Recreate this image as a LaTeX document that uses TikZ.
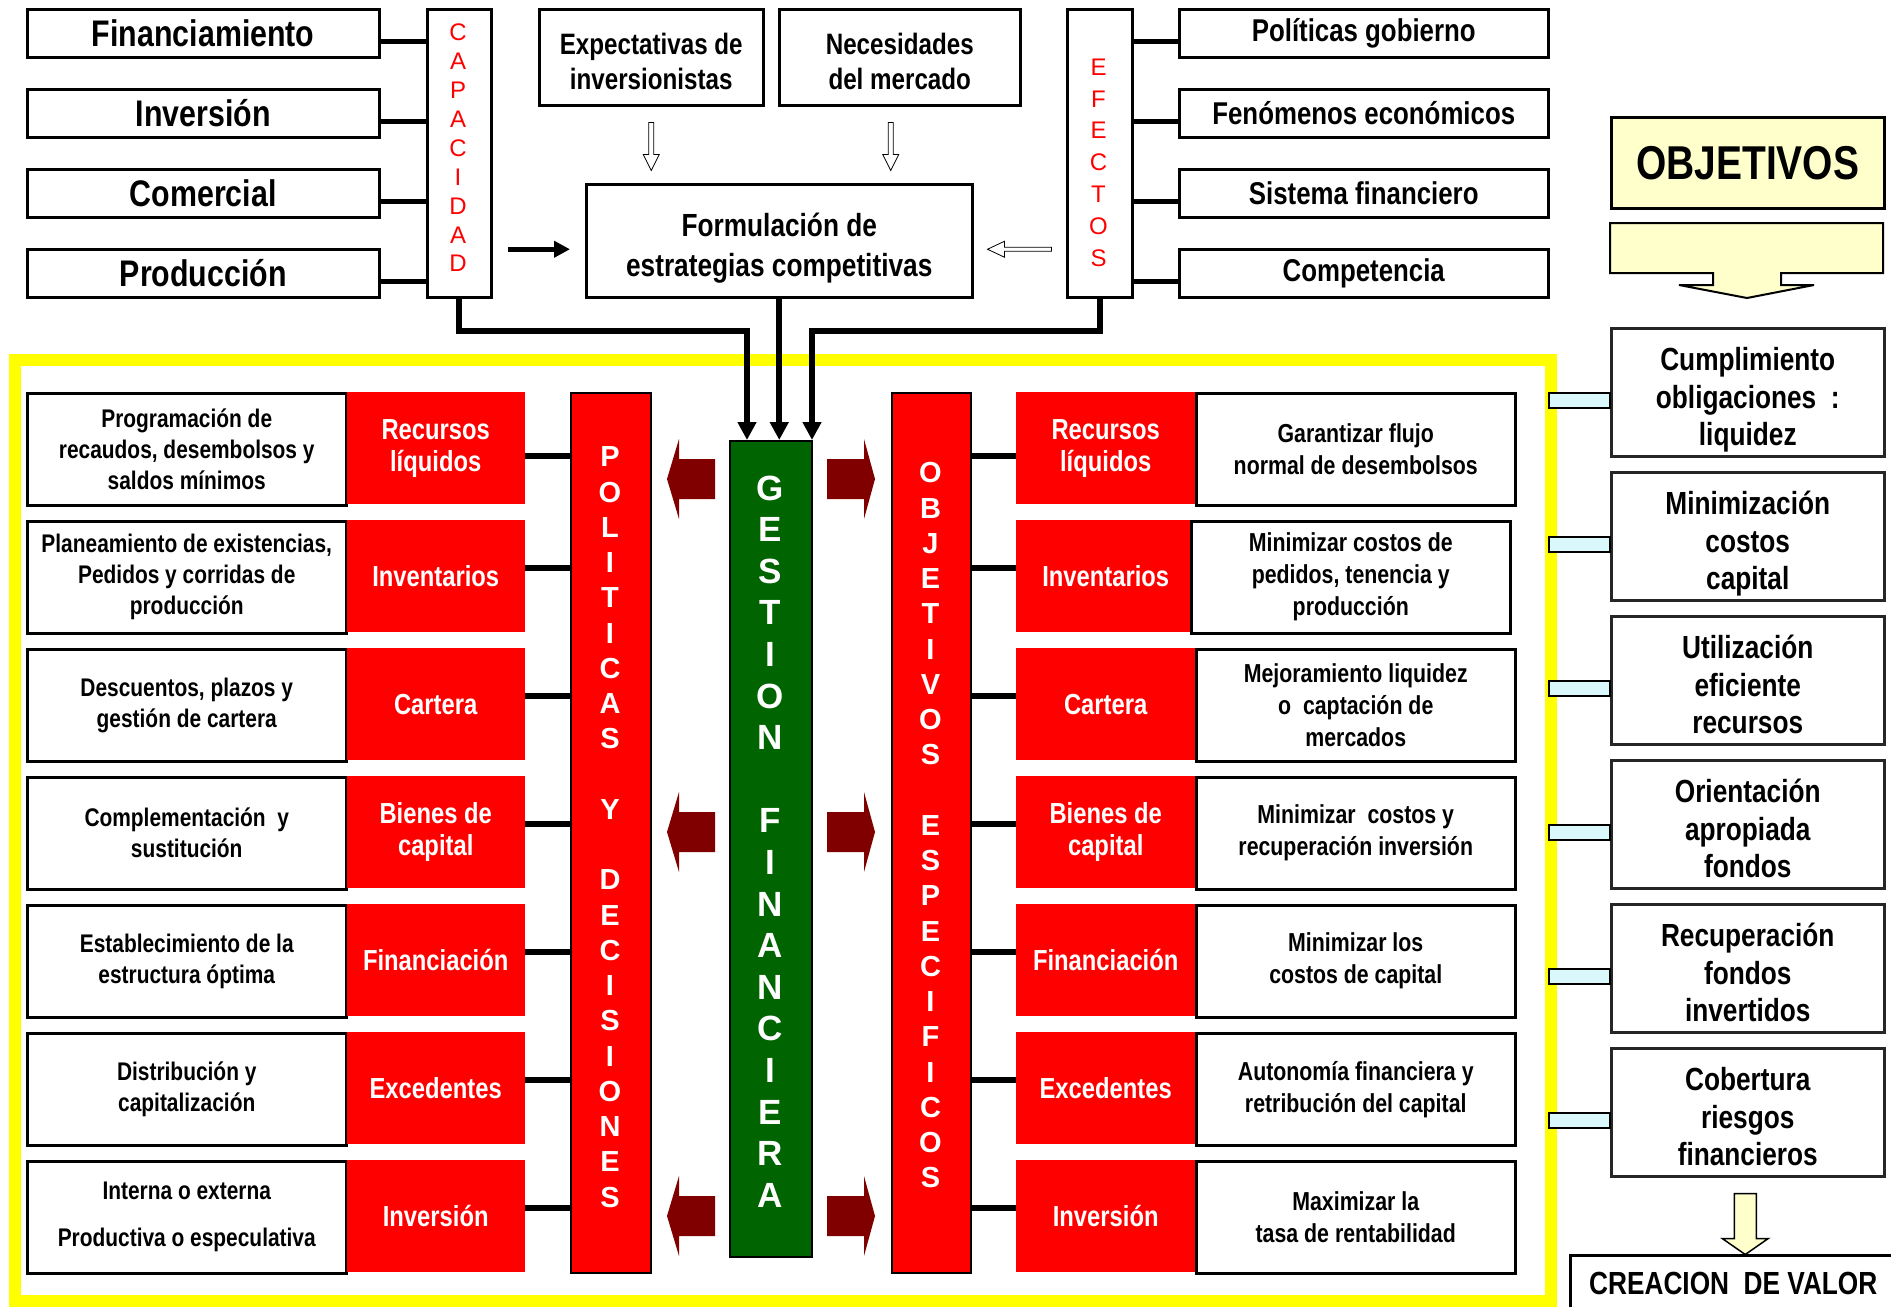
\documentclass[tikz,border=0pt]{standalone}
\usepackage{fontspec}
\setmainfont{Liberation Sans}[FakeStretch=0.82]
\newfontfamily\barfont{Liberation Sans}
\usetikzlibrary{positioning,calc,arrows.meta}

\definecolor{rojo}{HTML}{FF0000}
\definecolor{verde}{HTML}{006400}
\definecolor{marron}{HTML}{800000}
\definecolor{celeste}{HTML}{DAF7FB}
\definecolor{crema}{HTML}{FFFFCC}
\definecolor{amarillo}{HTML}{FFFF00}

\begin{document}
\begin{tikzpicture}[x=1pt, y=-1pt,
    box/.style={draw, line width=2.5pt, inner sep=0pt, align=center, font=\bfseries},
    topl/.style={box, minimum width=352pt, minimum height=48pt, font=\bfseries\fontsize{37}{40}\selectfont},
    topr/.style={box, minimum width=369pt, minimum height=48pt, font=\bfseries\fontsize{31.5}{36}\selectfont},
    lettbox/.style={box, minimum width=64pt, minimum height=288pt, anchor=north west},
    redletter/.style={text=rojo, inner sep=0pt, font=\barfont\fontsize{24}{24}\selectfont},
    barletter/.style={text=white, inner sep=0pt, font=\barfont\bfseries\fontsize{29}{29}\selectfont},
    bar/.style={draw, line width=2pt, fill=rojo, minimum width=80pt, minimum height=880pt, anchor=north west},
    desc/.style={box, fill=white, minimum width=319pt, minimum height=112pt, anchor=north west, font=\bfseries\fontsize{25.5}{31}\selectfont},
    rdesc/.style={desc, font=\bfseries\fontsize{26}{32}\selectfont},
    cat/.style={fill=rojo, text=white, inner sep=0pt, align=center, minimum width=178pt, minimum height=112pt, anchor=north west, font=\bfseries\fontsize{29}{32}\selectfont},
    goal/.style={box, draw=black!85, minimum width=273pt, minimum height=128pt, text height=115pt, text depth=8pt, font=\bfseries\fontsize{32}{37.5}\selectfont},
    twoline/.style={box, minimum height=96pt, anchor=north west, text height=72pt, text depth=8pt, font=\bfseries\fontsize{29.5}{35}\selectfont},
    link/.style={line width=5pt},
    feed/.style={line width=6pt, -{Triangle[width=18pt,length=18pt]}},
    bluebar/.style={draw, line width=1.5pt, fill=celeste},
    hollowdown/.pic={\draw[line width=0.8pt, fill=white] (-2.5,0) -- (2.5,0) -- (2.5,32) -- (8,32) -- (0,48) -- (-8,32) -- (-2.5,32) -- cycle;},
    hollowleft/.pic={\draw[line width=0.8pt, fill=white] (0,0) -- (17,-8) -- (17,-2) -- (64,-2) -- (64,2) -- (17,2) -- (17,8) -- cycle;},
    creamdown/.pic={\draw[line width=1.5pt, fill=crema] (-11,0) -- (11,0) -- (11,45) -- (23,45) -- (0,61) -- (-23,45) -- (-11,45) -- cycle;},
    brownleft/.pic={\fill[marron] (0,0) -- (12,-40) -- (12,-20) -- (48,-20) -- (48,20) -- (12,20) -- (12,40) -- cycle;},
    brownright/.pic={\fill[marron] (0,0) -- (-11,-40) -- (-11,-20) -- (-48,-20) -- (-48,20) -- (-11,20) -- (-11,40) -- cycle;}]

  \useasboundingbox (0,0) rectangle (1891,1307);

  % capacidad
  \node[topl, anchor=north west] (fin) at (26,8) {Financiamiento};
  \node[topl, below=29.5pt of fin] (inv) {Inversión};
  \node[topl, below=29.5pt of inv] (com) {Comercial};
  \node[topl, below=29.5pt of com] (pro) {Producción};
  \node[lettbox] (cap) at (426,8) {};
  \foreach \l [count=\k from 0] in {C,A,P,A,C,I,D,A,D}
    \node[redletter] (c\k) at (458,{32.5+28.9*\k}) {\l};
  \foreach \n in {fin,inv,com,pro}
    \draw[link] ($(\n.east)+(0,8)$) -- ($(\n.east -| cap.west)+(0,8)$);

  % entorno
  \node[twoline, minimum width=224pt] (expe) at (538,8) {Expectativas de\\inversionistas};
  \node[twoline, minimum width=241pt, anchor=west, right=13.5pt of expe] (nece) {Necesidades\\del mercado};
  \node[box, minimum width=386pt, minimum height=113pt, anchor=north west, text height=79pt, text depth=8pt,
        font=\bfseries\fontsize{32}{40}\selectfont] (form) at (585,183) {Formulación de\\estrategias competitivas};
  \pic at ($(expe.south)+(0,16)$) {hollowdown};
  \pic at ($(nece.south)+(-9,16)$) {hollowdown};
  \pic at ($(form.east)+(14,8.5)$) {hollowleft};
  \coordinate (capout) at ($(cap.east)+(15,96)$);
  \coordinate (formin) at ($(form.west)+(-15,8.5)$);
  \draw[line width=4.5pt, -{Triangle[width=16pt,length=16pt]}] (capout) -- (formin);

  % efectos
  \node[lettbox, minimum width=65pt] (efe) at (1066,8) {};
  \foreach \l [count=\k from 0] in {E,F,E,C,T,O,S}
    \node[redletter] (e\k) at (1098.5,{67+31.8*\k}) {\l};
  \node[topr, anchor=north west] (pgob) at (1178,8) {Políticas gobierno};
  \node[topr, below=29.5pt of pgob] (feco) {Fenómenos económicos};
  \node[topr, below=29.5pt of feco] (sfin) {Sistema financiero};
  \node[topr, below=29.5pt of sfin] (comp) {Competencia};
  \foreach \n in {pgob,feco,sfin,comp}
    \draw[link] ($(\n.west)+(0,8)$) -- ($(\n.west -| efe.east)+(0,8)$);

  % marco
  \draw[amarillo, line width=12pt] (15,360) rectangle (1551,1301);

  % columnas
  \node[bar] (pol) at (570,392) {};
  \node[bar, fill=verde, minimum width=82pt, minimum height=816pt] (gest) at (729,440) {};
  \node[bar, minimum width=79pt] (obj) at (891,392) {};
  \foreach \l/\k in {P/0,O/1,L/2,I/3,T/4,I/5,C/6,A/7,S/8,Y/10,D/12,E/13,C/14,I/15,S/16,I/17,O/18,N/19,E/20,S/21}
    \node[barletter] (pl\k) at (610,{457+35.24*\k}) {\l};
  \foreach \l/\k in {G/0,E/1,S/2,T/3,I/4,O/5,N/6,F/8,I/9,N/10,A/11,N/12,C/13,I/14,E/15,R/16,A/17}
    \node[barletter, font=\barfont\bfseries\fontsize{35}{35}\selectfont] (gl\k) at (770,{488+41.6*\k}) {\l};
  \foreach \l/\k in {O/0,B/1,J/2,E/3,T/4,I/5,V/6,O/7,S/8,E/10,S/11,P/12,E/13,C/14,I/15,F/16,I/17,C/18,O/19,S/20}
    \node[barletter] (ol\k) at (930.5,{473+35.25*\k}) {\l};

  \coordinate (g1) at ($(gest.north west)+(18,0)$);
  \coordinate (g3) at ($(gest.north east)+(-1,0)$);
  \draw[feed] (cap.south) -- ++(0,32) -| (g1);
  \draw[feed] (form.south) -- (form.south |- gest.north);
  \draw[feed] (efe.south) -- ++(0,32) -| (g3);

  \foreach \yy in {479,832,1216} {
    \coordinate (ay) at (0,\yy);
    \pic at ($(pol.east |- ay)+(15,0)$) {brownleft};
    \pic at ($(obj.west |- ay)+(-16,0)$) {brownright};
  }

  % politicas y objetivos especificos
  \foreach \k/\cy/\dx/\ld/\ct/\rd in {
      1/64/0/{Programación de\\recaudos, desembolsos y\\saldos mínimos}/{Recursos\\líquidos}/{Garantizar flujo\\normal de desembolsos},
      2/48/-5/{Planeamiento de existencias,\\Pedidos y corridas de\\producción}/{Inventarios}/{Minimizar costos de\\pedidos, tenencia y\\producción},
      3/48/0/{Descuentos, plazos y\\gestión de cartera}/{Cartera}/{Mejoramiento liquidez\\o~~captación de\\mercados},
      4/48/0/{Complementación~~y\\sustitución}/{Bienes de\\capital}/{Minimizar~~costos y\\recuperación inversión},
      5/48/0/{Establecimiento de la\\estructura óptima}/{Financiación}/{Minimizar los\\costos de capital},
      6/48/0/{Distribución y\\capitalización}/{Excedentes}/{Autonomía financiera y\\retribución del capital},
      7/48/0/{Interna o externa\\[16pt]Productiva o especulativa}/{Inversión}/{Maximizar la\\tasa de rentabilidad}} {
    \node[desc] (ld\k) at (26,{264+128*\k}) {\ld};
    \node[cat] (lc\k) at (346.5,{264+128*\k}) {\ct};
    \node[cat, minimum width=179pt] (rc\k) at (1016,{264+128*\k}) {\ct};
    \node[rdesc] (rd\k) at ({1195+\dx},{264+128*\k}) {\rd};
    \coordinate (cy\k) at (0,{264+128*\k+\cy});
    \draw[link, line width=6pt] (lc\k.east |- cy\k) -- (pol.west |- cy\k);
    \draw[link, line width=6pt] (obj.east |- cy\k) -- (rc\k.west |- cy\k);
  }

  % objetivos
  \node[box, fill=crema, minimum width=273pt, minimum height=91pt, anchor=north west,
        font=\bfseries\fontsize{47.5}{48}\selectfont] (objt) at (1610,116) {OBJETIVOS};
  \draw[line width=2pt, fill=crema] (1610,223) -- (1883,223) -- (1883,273) -- (1781,273) -- (1781,285)
    -- (1814,285) -- (1747,298) -- (1679,285) -- (1713,285) -- (1713,273) -- (1610,273) -- cycle;
  \node[goal, anchor=north west] (ob1) at (1610,327) {Cumplimiento\\obligaciones~~:\\liquidez};
  \node[goal, below=13.5pt of ob1] (ob2) {Minimización\\costos\\capital};
  \node[goal, below=13.5pt of ob2] (ob3) {Utilización\\eficiente\\recursos};
  \node[goal, below=13.5pt of ob3] (ob4) {Orientación\\apropiada\\fondos};
  \node[goal, below=13.5pt of ob4] (ob5) {Recuperación\\fondos\\invertidos};
  \node[goal, below=13.5pt of ob5] (ob6) {Cobertura\\riesgos\\financieros};
  \foreach \n in {ob1,ob2,ob3,ob4,ob5,ob6}
    \draw[bluebar] ($(\n.west)+(-61,0.5)$) rectangle ($(\n.west)+(0,15.5)$);
  \pic at ($(ob6.south)+(-2.5,16)$) {creamdown};
  \node[box, minimum width=326pt, minimum height=56pt, anchor=north west,
        font=\bfseries\fontsize{32}{32}\selectfont] (valor) at (1569,1254) {CREACION~~DE VALOR};

\end{tikzpicture}
\end{document}
